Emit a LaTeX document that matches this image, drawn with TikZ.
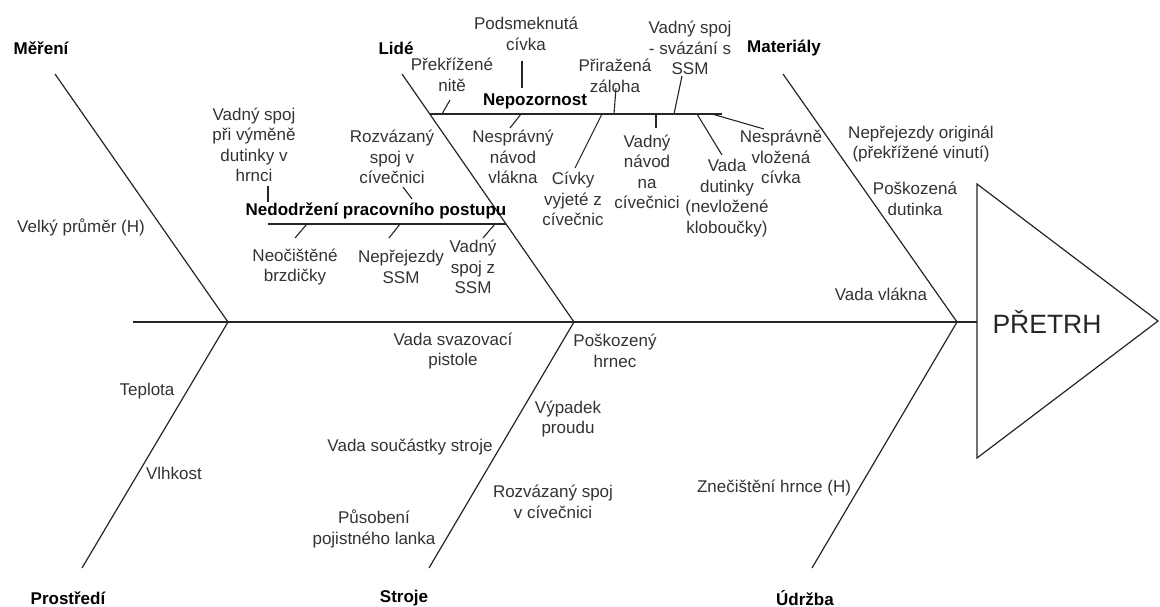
\documentclass[tikz,border=0pt]{standalone}
\usepackage{fontspec}
\setmainfont{Liberation Sans}
\begin{document}
\begin{tikzpicture}[x=1pt,y=-1pt,
  bone/.style={draw=black!85,line width=1.2pt},
  tick/.style={draw=black!85,line width=1.1pt},
  lbl/.style={inner sep=0pt,align=center,text=black!80,font=\fontsize{17}{20.5}\selectfont},
  cat/.style={inner sep=0pt,align=center,text=black,font=\fontsize{17}{20.5}\selectfont\bfseries},
  headtxt/.style={inner sep=0pt,text=black!85,font=\fontsize{26.5}{30}\selectfont}]
\useasboundingbox (0,0) rectangle (1160,607);
\fill[white] (0,0) rectangle (1160,607);

% spine and bones
\coordinate (S0) at (133,322);
\coordinate (H0) at (977,322);
\coordinate (J1) at (228,322);
\coordinate (J2) at (574,322);
\coordinate (J3) at (957,322);
\coordinate (M1) at (55,74);
\coordinate (P1) at (82,568);
\coordinate (L1) at (402,74);
\coordinate (St1) at (429,568);
\coordinate (Ma1) at (783,74);
\coordinate (U1) at (812,568);

\draw[bone] (S0) -- (H0);
\draw[bone] (M1) -- (J1) -- (P1);
\draw[bone] (L1) -- (J2) -- (St1);
\draw[bone] (Ma1) -- (J3) -- (U1);

% head
\coordinate (T1) at (977,184);
\coordinate (T2) at (977,458);
\coordinate (T3) at (1158,321);
\draw[bone] (T1) -- (T3) -- (T2) -- cycle;
\node[headtxt] (head) at (1047,322) {PŘETRH};

% categories
\node[cat] (mer) at (41,48) {Měření};
\node[cat] (lid) at (396,48) {Lidé};
\node[cat] (mat) at (784,48) {Materiály};
\node[cat] (pro) at (68,598) {Prostředí};
\node[cat] (str) at (404,598) {Stroje};
\node[cat] (udr) at (805,598) {Údržba};

% direct causes
\node[lbl] (c1) at (81,227) {Velký průměr (H)};
\node[lbl] (c2) at (147,391) {Teplota};
\node[lbl] (c3) at (174,473) {Vlhkost};
\node[lbl] (c4) at (453,351) {Vada svazovací\\pistole};
\node[lbl] (c5) at (615,351) {Poškozený\\hrnec};
\node[lbl] (c6) at (568,419) {Výpadek\\proudu};
\node[lbl] (c7) at (410,447) {Vada součástky stroje};
\node[lbl] (c8) at (553,502) {Rozvázaný spoj\\v cívečnici};
\node[lbl] (c9) at (374,529) {Působení\\pojistného lanka};
\node[lbl] (c10) at (774,488) {Znečištění hrnce (H)};
\node[lbl] (c11) at (921,144) {Nepřejezdy originál\\(překřížené vinutí)};
\node[lbl] (c12) at (915,199) {Poškozená\\dutinka};
\node[lbl] (c13) at (881,294) {Vada vlákna};

% Nepozornost branch
\coordinate (N0) at (429.7,114);
\coordinate (N1) at (722,114);
\draw[bone] (N0) -- (N1);
\node[cat] (nep) at (535,101) {Nepozornost};

\node[lbl] (n1) at (452,75) {Překřížené\\nitě};
\coordinate (n1a) at (442,114); \coordinate (n1b) at (450,100);
\draw[tick] (n1a) -- (n1b);
\node[lbl] (n2) at (526,34) {Podsmeknutá\\cívka};
\coordinate (n2a) at (522,61); \coordinate (n2b) at (522,88);
\draw[tick] (n2a) -- (n2b);
\node[lbl] (n3) at (615,76) {Přiražená\\záloha};
\coordinate (n3a) at (616,88); \coordinate (n3b) at (614,114);
\draw[tick] (n3a) -- (n3b);
\node[lbl] (n4) at (690,48) {Vadný spoj\\- svázání s\\SSM};
\coordinate (n4a) at (682,76); \coordinate (n4b) at (674,114);
\draw[tick] (n4a) -- (n4b);
\node[lbl] (n5) at (513,157) {Nesprávný\\návod\\vlákna};
\coordinate (n5a) at (521,114); \coordinate (n5b) at (510,128);
\draw[tick] (n5a) -- (n5b);
\node[lbl] (n6) at (573,199) {Cívky\\vyjeté z\\cívečnic};
\coordinate (n6a) at (602,114); \coordinate (n6b) at (575,168);
\draw[tick] (n6a) -- (n6b);
\node[lbl] (n7) at (647,172) {Vadný\\návod\\na\\cívečnici};
\coordinate (n7a) at (656,114); \coordinate (n7b) at (656,128);
\draw[tick] (n7a) -- (n7b);
\node[lbl] (n8) at (727,198) {Vada\\dutinky\\(nevložené\\kloboučky)};
\coordinate (n8a) at (697,114); \coordinate (n8b) at (722,155);
\draw[tick] (n8a) -- (n8b);
\node[lbl] (n9) at (781,157) {Nesprávně\\vložená\\cívka};
\coordinate (n9a) at (712,114); \coordinate (n9b) at (764,129);
\draw[tick] (n9a) -- (n9b);

% Nedodrzeni branch
\coordinate (D0) at (268,224);
\coordinate (D1) at (506,224);
\draw[bone] (D0) -- (D1);
\node[cat] (ned) at (376,211) {Nedodržení pracovního postupu};

\node[lbl] (d1) at (254,145) {Vadný spoj\\při výměně\\dutinky v\\hrnci};
\coordinate (d1a) at (268,186); \coordinate (d1b) at (268,202);
\draw[tick] (d1a) -- (d1b);
\node[lbl] (d2) at (392,157) {Rozvázaný\\spoj v\\cívečnici};
\coordinate (d2a) at (403,187); \coordinate (d2b) at (412,199);
\draw[tick] (d2a) -- (d2b);
\node[lbl] (d3) at (295,267) {Neočištěné\\brzdičky};
\coordinate (d3a) at (307,224); \coordinate (d3b) at (295,238);
\draw[tick] (d3a) -- (d3b);
\node[lbl] (d4) at (401,267) {Nepřejezdy\\SSM};
\coordinate (d4a) at (400,224); \coordinate (d4b) at (389,238);
\draw[tick] (d4a) -- (d4b);
\node[lbl] (d5) at (473,267) {Vadný\\spoj z\\SSM};
\coordinate (d5a) at (495,224); \coordinate (d5b) at (483,238);
\draw[tick] (d5a) -- (d5b);
\end{tikzpicture}
\end{document}
